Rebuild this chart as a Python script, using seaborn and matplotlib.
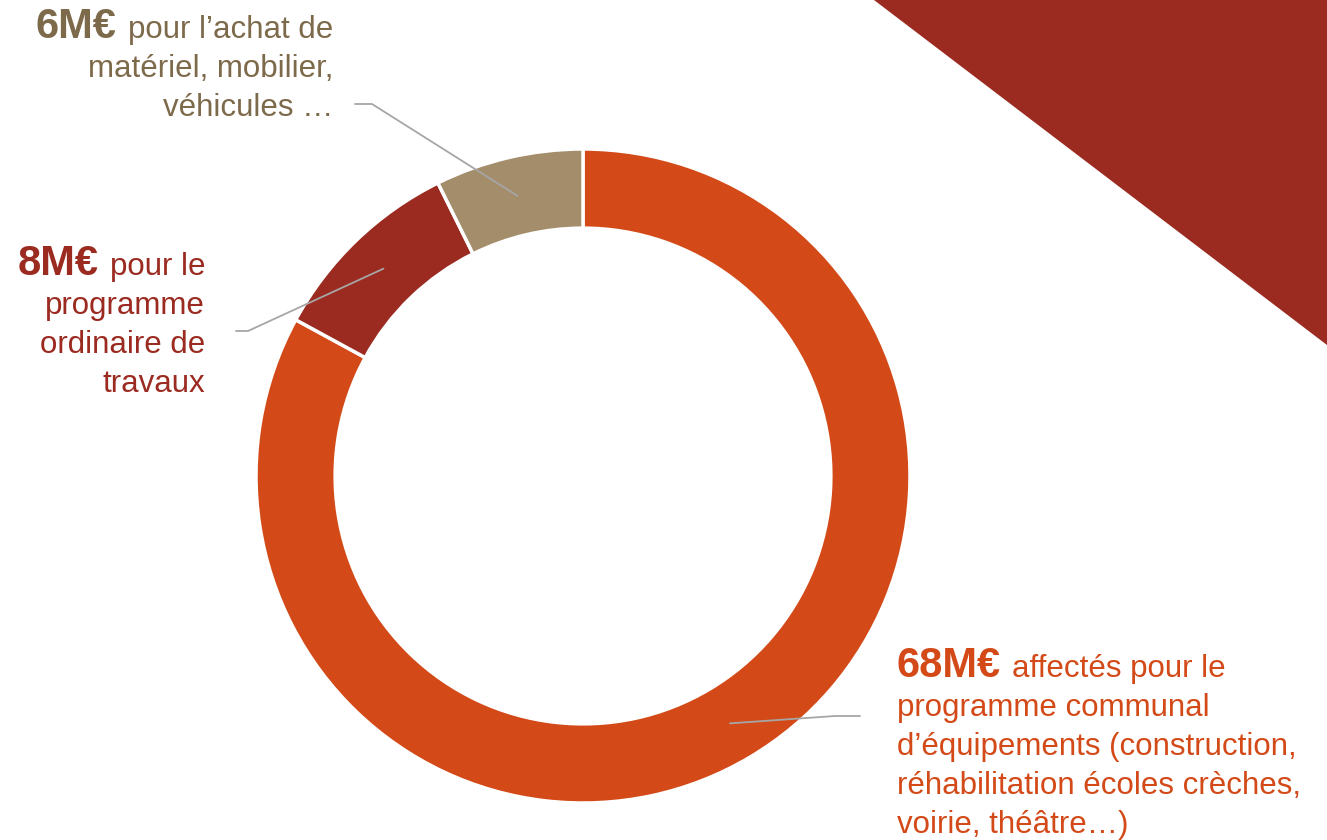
import numpy as np
import matplotlib.pyplot as plt
import seaborn as sns
from matplotlib.patches import Polygon

# données
values = [68, 8, 6]
bold_labels = ["68M€", "8M€", "6M€"]
first_lines = ["affectés pour le", "pour le", "pour l’achat de"]
other_lines = [
    ["programme communal", "d’équipements (construction,",
     "réhabilitation écoles crèches,", "voirie, théâtre…)"],
    ["programme", "ordinaire de", "travaux"],
    ["matériel, mobilier,", "véhicules …"],
]
colors = ["#D34A18", "#9B2B20", "#A38D6A"]
text_colors = ["#D34A18", "#9B2B20", "#7D6A4B"]

sns.set_theme(style="white")
plt.rcParams['font.family'] = ['Liberation Sans', 'DejaVu Sans']

W, H = 1327, 840
fig = plt.figure(figsize=(W / 100, H / 100), dpi=100)
fig.patch.set_facecolor("white")

# triangle décoratif en haut à droite
fig.patches.append(Polygon([(874 / W, 1), (1, 1), (1, 1 - 345 / H)], closed=True,
                           transform=fig.transFigure, facecolor="#9B2B20",
                           edgecolor="none", zorder=0))

cx, cy, R = 583, 476, 327
ax = fig.add_axes([(cx - R) / W, (H - cy - R) / H, 2 * R / W, 2 * R / H])
wedges, _ = ax.pie(values, colors=colors, startangle=90, counterclock=False,
                   radius=1, wedgeprops=dict(width=0.242, edgecolor="white", linewidth=2.5))
ax.set_xlim(-1, 1)
ax.set_ylim(-1, 1)
ax.set_aspect("equal")
ax.axis("off")


def px2data(px, py):
    return ax.transData.inverted().transform((px, H - py))


# lignes de rappel : (extrémité, coude) en pixels
leaders = [((860, 716), (835, 716)), ((236, 331), (248, 331)), ((355, 104), (372, 104))]
for w, (end, elbow) in zip(wedges, leaders):
    mid = np.deg2rad((w.theta1 + w.theta2) / 2)
    p0 = (0.88 * np.cos(mid), 0.88 * np.sin(mid))
    p1 = px2data(*elbow)
    p2 = px2data(*end)
    ax.plot([p0[0], p1[0], p2[0]], [p0[1], p1[1], p2[1]], color="#A6A6A6",
            lw=1.3, clip_on=False, zorder=5)

# étiquettes : (x, y de la première ligne de base, alignement)
anchors = [(897, 677, "left"), (205, 275, "right"), (333, 38, "right")]
reg_size, bold_size, step, gap = 22.5, 30, 39, 11

fig.canvas.draw()
renderer = fig.canvas.get_renderer()
for i, (x, y, ha) in enumerate(anchors):
    c = text_colors[i]
    yf = 1 - y / H
    if ha == "left":
        tb = fig.text(x / W, yf, bold_labels[i], ha="left", va="baseline",
                      fontsize=bold_size, fontweight="bold", color=c)
        ext = tb.get_window_extent(renderer)
        fig.text((ext.x1 + gap) / W, yf, first_lines[i], ha="left", va="baseline",
                 fontsize=reg_size, color=c)
    else:
        tr = fig.text(x / W, yf, first_lines[i], ha="right", va="baseline",
                      fontsize=reg_size, color=c)
        ext = tr.get_window_extent(renderer)
        fig.text((ext.x0 - gap) / W, yf, bold_labels[i], ha="right", va="baseline",
                 fontsize=bold_size, fontweight="bold", color=c)
    for k, line in enumerate(other_lines[i]):
        fig.text(x / W, 1 - (y + step * (k + 1)) / H, line, ha=ha, va="baseline",
                 fontsize=reg_size, color=c)

fig.savefig("out.png", dpi=100)
